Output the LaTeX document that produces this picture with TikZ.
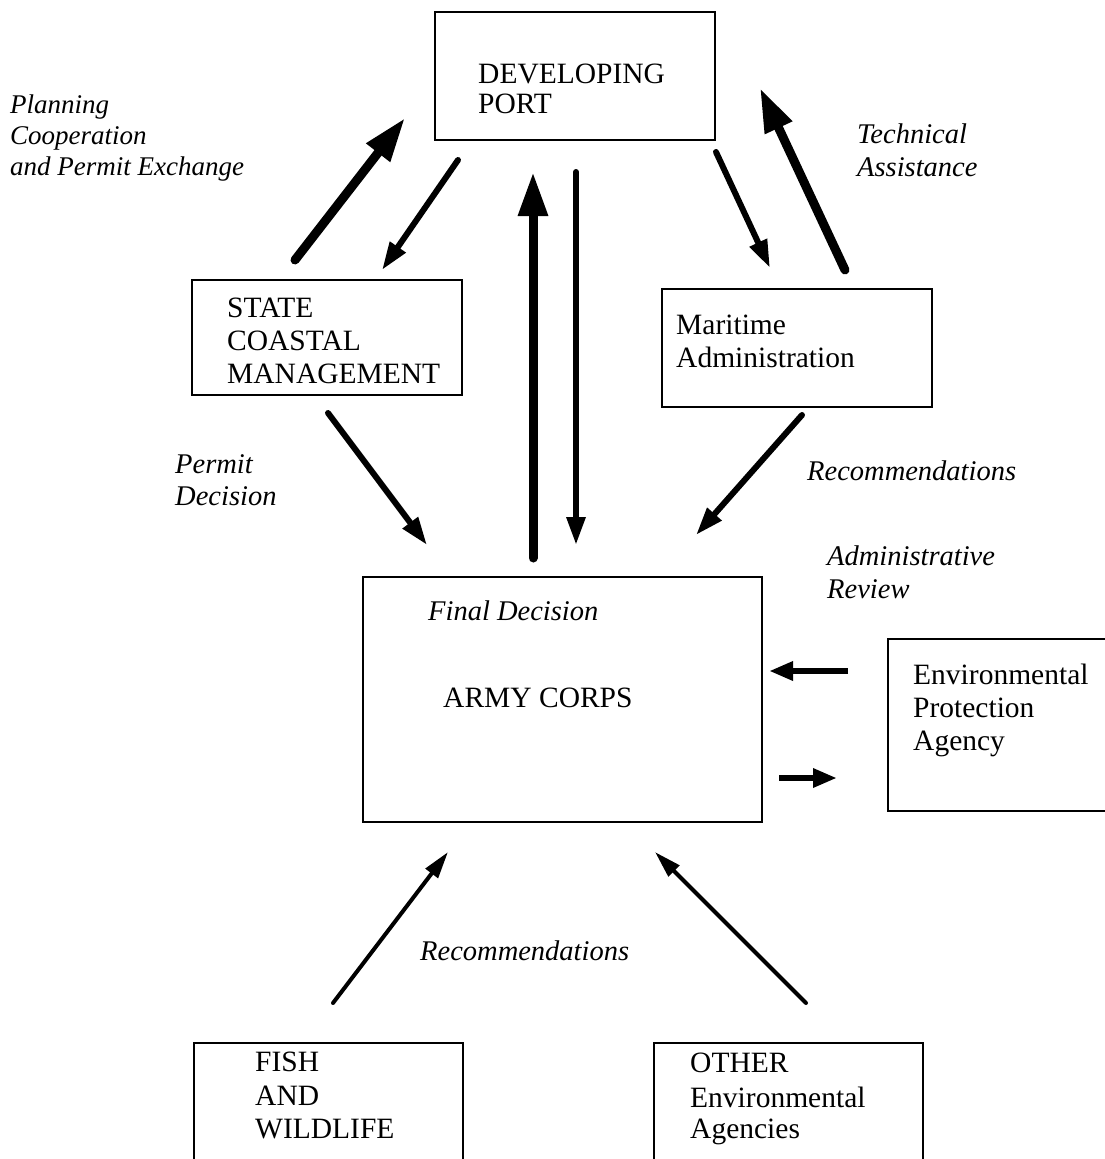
\documentclass[tikz,border=0pt]{standalone}
\usepackage{fontspec}
\setmainfont{Liberation Serif}
\usetikzlibrary{arrows.meta}
\begin{document}
\begin{tikzpicture}[x=1pt,y=-1pt,
  box/.style={draw, line width=2.4pt, inner sep=0pt, outer sep=0pt},
  txt/.style={inner sep=0pt, anchor=base west, align=left, font=\fontsize{29.5}{33}\selectfont},
  itxt/.style={inner sep=0pt, anchor=base west, align=left, font=\fontsize{28.5}{33}\selectfont\itshape},
  heavy/.style={line width=9pt, line cap=round, -{Triangle[length=44pt,width=28pt]}},
  medium/.style={line width=6pt, line cap=round, -{Triangle[length=28pt,width=18pt]}},
  light/.style={line width=4pt, line cap=round, -{Triangle[length=27pt,width=15pt]}},
  short/.style={line width=6pt, -{Triangle[length=24pt,width=18pt]}}
  ]
\fill[white] (0,0) rectangle (1105,1159);
\useasboundingbox (0,0) rectangle (1105,1159);

% boxes
\node[box, minimum width=280pt, minimum height=128pt] (port) at (575,76) {};
\node[box, minimum width=270pt, minimum height=115pt] (state) at (327,337.5) {};
\node[box, minimum width=270pt, minimum height=118pt] (mar) at (797,348) {};
\node[box, minimum width=399pt, minimum height=245pt] (army) at (562.5,699.5) {};
\node[box, minimum width=224pt, minimum height=172pt] (epa) at (1000,725) {};
\node[box, minimum width=269pt, minimum height=132pt] (fish) at (328.5,1109) {};
\node[box, minimum width=269pt, minimum height=132pt] (other) at (788.5,1109) {};

% box texts (anchored at the baseline of the last line)
\node[txt] (porttxt) at (478,113) {DEVELOPING\\[-3pt]PORT};
\node[txt] (statetxt) at (227,383) {STATE\\COASTAL\\MANAGEMENT};
\node[txt] (martxt) at (676,367) {Maritime\\Administration};
\node[itxt] (finaltxt) at (428,620) {Final Decision};
\node[txt] (armytxt) at (443,707) {ARMY CORPS};
\node[txt] (epatxt) at (913,750) {Environmental\\Protection\\Agency};
\node[txt] (fishtxt) at (255,1138) {FISH\\[1pt]AND\\WILDLIFE};
\node[txt] (othertxt) at (690,1138) {OTHER\\[2pt]Environmental\\[-2pt]Agencies};

% labels
\node[itxt, font=\fontsize{27}{31}\selectfont\itshape] (plantxt) at (10,175) {Planning\\Cooperation\\and Permit Exchange};
\node[itxt] (techtxt) at (857,176) {Technical\\Assistance};
\node[itxt] (permtxt) at (175,505) {Permit\\[-1pt]Decision};
\node[itxt] (rec1txt) at (807,480) {Recommendations};
\node[itxt] (admintxt) at (827,598) {Administrative\\Review};
\node[itxt] (rec2txt) at (420,960) {Recommendations};

% connector end points
\coordinate (sp1) at (295,260);  \coordinate (sp2) at (405,118);
\coordinate (ps1) at (458,160);  \coordinate (ps2) at (382,270);
\coordinate (ap1) at (533,558);  \coordinate (ap2) at (533,172);
\coordinate (pa1) at (576,172);  \coordinate (pa2) at (576,545);
\coordinate (pm1) at (716,152);  \coordinate (pm2) at (770,268);
\coordinate (mp1) at (845,270);  \coordinate (mp2) at (760,88);
\coordinate (sa1) at (328,413);  \coordinate (sa2) at (427,545);
\coordinate (ma1) at (802,415);  \coordinate (ma2) at (696,535);
\coordinate (ea1) at (848,671);  \coordinate (ea2) at (769,671);
\coordinate (ae1) at (779,778);  \coordinate (ae2) at (837,778);
\coordinate (fa1) at (333,1003); \coordinate (fa2) at (448,852);
\coordinate (oa1) at (806,1003); \coordinate (oa2) at (655,852);

% connectors
\draw[heavy] (sp1) -- (sp2);
\draw[medium] (ps1) -- (ps2);
\draw[heavy] (ap1) -- (ap2);
\draw[medium] (pa1) -- (pa2);
\draw[medium] (pm1) -- (pm2);
\draw[heavy] (mp1) -- (mp2);
\draw[medium] (sa1) -- (sa2);
\draw[medium] (ma1) -- (ma2);
\draw[short] (ea1) -- (ea2);
\draw[short] (ae1) -- (ae2);
\draw[light] (fa1) -- (fa2);
\draw[light] (oa1) -- (oa2);
\end{tikzpicture}
\end{document}
